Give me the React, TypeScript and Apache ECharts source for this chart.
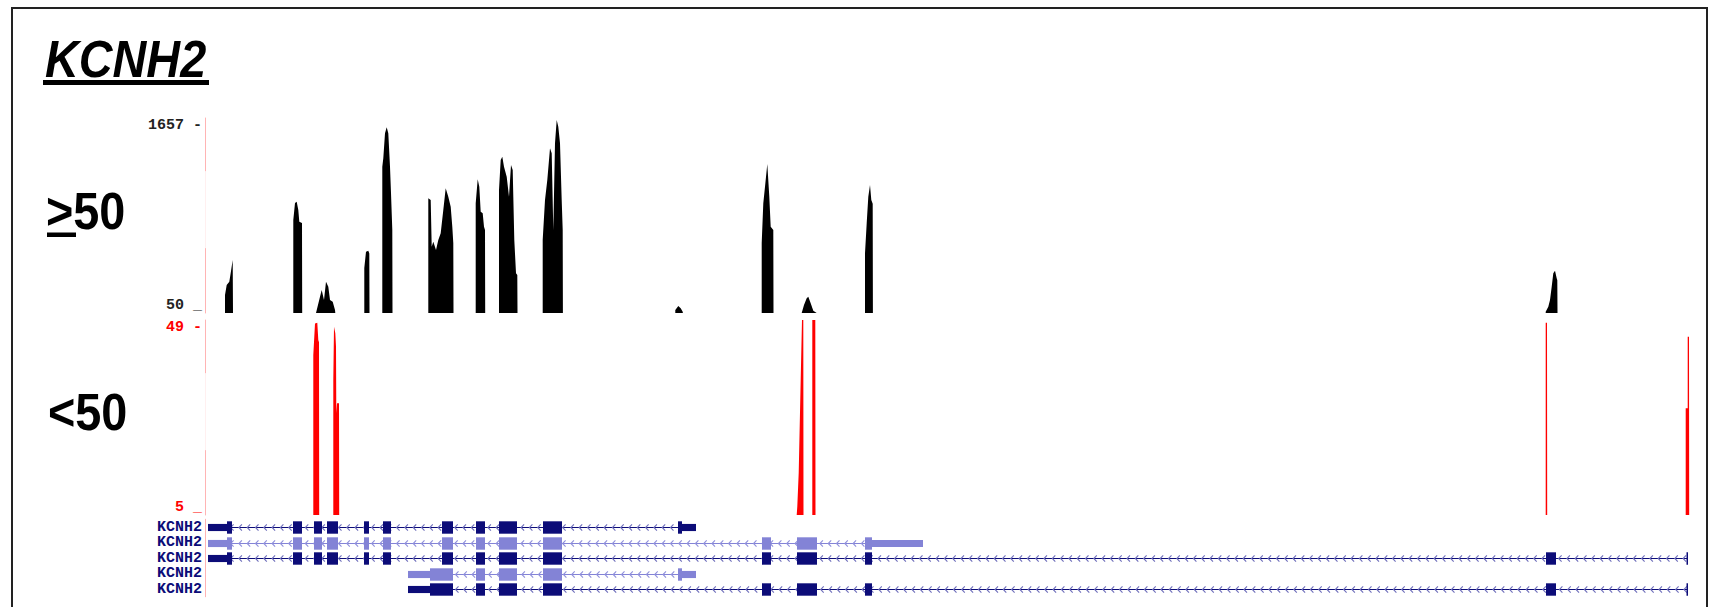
import React, { useEffect, useRef } from "react";
import * as echarts from "echarts";

// ---- coverage (>=50 reads) peaks: [position, depth]
const covA = [[20, 50], [20, 198], [21.7, 281], [24.3, 308], [25.7, 380], [27.7, 487], [28, 50]];
const covB = [[88.3, 50], [88.3, 816], [90, 956], [91.7, 967], [93.3, 899], [94.3, 802], [97, 792], [97.2, 50]];
const covC = [[111, 50], [115, 184], [116.7, 240], [119, 157], [121, 308], [123.3, 267], [125, 157], [127.7, 143], [130, 75], [130.3, 50]];
const covD = [[159.3, 50], [159.3, 421], [161, 555], [163.3, 563], [164.3, 540], [164.5, 50]];
const covE = [[177.3, 50], [177.3, 1256], [178.3, 1325], [180, 1531], [181.7, 1580], [183.3, 1531], [185, 1256], [186, 1039], [187.3, 734], [187.5, 50]];
const covF = [[223.3, 50], [223.3, 995], [225.7, 981], [226.7, 596], [228.3, 638], [231, 569], [233.3, 652], [235.7, 707], [238.3, 899], [240.7, 1078], [243.3, 1008], [245.7, 926], [247.3, 761], [248.3, 624], [248.5, 50]];
const covG = [[270.7, 50], [270.7, 954], [272.7, 1152], [274.3, 1091], [275.7, 885], [277.7, 872], [279, 761], [280, 734], [280.2, 50]];
const covH = [[294, 50], [294, 1064], [295.7, 1311], [297.3, 1338], [299, 1256], [301.7, 1173], [304, 1008], [306, 1270], [307.7, 1228], [309.3, 652], [311, 377], [312.3, 363], [312.5, 50]];
const covI = [[337.7, 50], [337.7, 652], [340, 981], [342.3, 1146], [345, 1407], [346.7, 1366], [348.3, 734], [350, 1449], [351.7, 1640], [353.3, 1585], [355, 1449], [356.7, 981], [357.7, 734], [357.9, 50]];
const covJ = [[470.3, 50], [470.3, 75], [473.3, 108], [475.7, 89], [477.7, 60], [477.9, 50]];
const covK = [[556.7, 50], [556.7, 624], [558.3, 954], [560, 1091], [562.3, 1278], [564.3, 1008], [565.7, 761], [568.3, 734], [568.5, 50]];
const covL = [[596.7, 50], [599, 116], [601.7, 171], [603.3, 184], [605.7, 130], [608.3, 69], [611.7, 50]];
const covM = [[660, 50], [660, 542], [661.7, 789], [663.3, 1008], [665, 1105], [666.3, 981], [667.7, 950], [667.9, 50]];
const covN = [[1340.7, 50], [1340.7, 61], [1343.3, 102], [1345, 157], [1346.7, 267], [1348.3, 377], [1350, 399], [1351.7, 336], [1352.3, 320], [1352.5, 50]];

// ---- coverage (<50 reads) peaks
const redA = [[108.3, 5], [108.3, 41.1], [110, 48.2], [112.3, 48.4], [113.3, 44.5], [114, 44], [114.2, 5]];
const redB = [[128.3, 5], [128.3, 35.5], [129, 47.5], [130.3, 46], [131, 43], [131.3, 28], [132, 30.2], [134, 30.2], [134.2, 5]];
const redC = [[591.7, 5], [592.3, 6.9], [593.7, 14.5], [595.7, 35.5], [597, 49], [598.3, 49], [598.5, 5]];
const redD = [[607.3, 5], [607.3, 49], [610.3, 49], [610.5, 5]];
const redE = [[1340.7, 5], [1340.7, 48.4], [1342, 48.4], [1342.2, 5]];
const redF = [[1480.7, 5], [1480.7, 29.1], [1482.7, 29.1], [1482.7, 45.2], [1484, 45.2], [1484.2, 5]];

// ---- axes
const X_MIN = 0;
const X_MAX = 1485;
const covTicks = [50, 1657];
const redTicks = [5, 49];
const geneName = "KCNH2";

// ---- gene models (rows top to bottom), tone 0 = dark, 1 = light
const geneRows = [1, 2, 3, 4, 5];
const rowTone = [0, 1, 0, 1, 0];
const rowSpan = [[3, 491], [3, 718], [3, 1483], [203, 491], [203, 1483]];
const rowUtr = [
  [[3, 22], [477, 491]],
  [[3, 22], [667, 718]],
  [[3, 22]],
  [[203, 225], [477, 491]],
  [[203, 225]],
];
const exonsCore = [[22, 27], [88, 97], [109, 117], [122, 133], [159, 164], [178, 186], [237, 248], [271, 280], [294, 312], [338, 357]];
const rowExons = [
  [...exonsCore, [473, 477]],
  [...exonsCore, [557, 566], [592, 612], [660, 667]],
  [...exonsCore, [557, 566], [592, 612], [660, 667], [1341, 1351], [1481.5, 1483]],
  [[225, 248], [271, 280], [294, 312], [338, 357], [473, 477]],
  [[225, 248], [271, 280], [294, 312], [338, 357], [557, 566], [592, 612], [660, 667], [1341, 1351], [1481.5, 1483]],
];

const NAVY = "#0c0c78";
const LIGHT = "#8383d6";
const CHEV = ["#7070bc", "#9090dc"];
const PINK = "#ffb4b4";
const FAINT = "#fff0f0";

function buildGeneItems() {
  const items: number[][] = [];
  geneRows.forEach((r, i) => {
    items.push([rowSpan[i][0], rowSpan[i][1], r, 0, rowTone[i]]);
  });
  geneRows.forEach((r, i) => {
    rowUtr[i].forEach((u) => items.push([u[0], u[1], r, 1, rowTone[i]]));
    rowExons[i].forEach((e) => items.push([e[0], e[1], r, 2, rowTone[i]]));
  });
  return items;
}

function pinkGradient(top: number, bottom: number) {
  return new echarts.graphic.LinearGradient(
    0, top, 0, bottom,
    [
      { offset: 0, color: PINK },
      { offset: 0.27, color: PINK },
      { offset: 0.275, color: FAINT },
      { offset: 0.665, color: FAINT },
      { offset: 0.67, color: PINK },
      { offset: 1, color: PINK },
    ],
    true
  );
}

const labelFont = { fontFamily: "Liberation Mono", fontWeight: "bold" as const, fontSize: 15, lineHeight: 15 };

function buildOption() {
  const covData = [covA, covB, covC, covD, covE, covF, covG, covH, covI, covJ, covK, covL, covM, covN].flat();
  const redData = [redA, redB, redC, redD, redE, redF].flat();
  const geneItems = buildGeneItems();

  const hiddenX = (gridIndex: number) => ({
    type: "value", gridIndex, min: X_MIN, max: X_MAX, show: false,
  });

  return {
    animation: false,
    backgroundColor: "#ffffff",
    grid: [
      { left: 205, top: 118, width: 1485, height: 195 },
      { left: 205, top: 320, width: 1485, height: 195 },
      { left: 205, top: 519.25, width: 1485, height: 77.5 },
    ],
    xAxis: [hiddenX(0), hiddenX(1), hiddenX(2)],
    yAxis: [
      {
        type: "value", gridIndex: 0, position: "left", min: covTicks[0], max: covTicks[1],
        axisLine: { show: true, lineStyle: { color: pinkGradient(118, 313), width: 1 } },
        axisTick: { show: false }, splitLine: { show: false },
        axisLabel: { ...labelFont, color: "#222", margin: 3, customValues: [covTicks[1]], formatter: (v: number) => `${v} -`, verticalAlign: "top" },
      },
      {
        type: "value", gridIndex: 0, position: "left", min: covTicks[0], max: covTicks[1],
        axisLine: { show: false }, axisTick: { show: false }, splitLine: { show: false },
        axisLabel: { ...labelFont, color: "#222", margin: 3, customValues: [covTicks[0]], formatter: (v: number) => `${v} _`, verticalAlign: "bottom" },
      },
      {
        type: "value", gridIndex: 1, position: "left", min: redTicks[0], max: redTicks[1],
        axisLine: { show: true, lineStyle: { color: pinkGradient(320, 515), width: 1 } },
        axisTick: { show: false }, splitLine: { show: false },
        axisLabel: { ...labelFont, color: "#ff0000", margin: 3, customValues: [redTicks[1]], formatter: (v: number) => `${v} -`, verticalAlign: "top" },
      },
      {
        type: "value", gridIndex: 1, position: "left", min: redTicks[0], max: redTicks[1],
        axisLine: { show: false }, axisTick: { show: false }, splitLine: { show: false },
        axisLabel: { ...labelFont, color: "#ff0000", margin: 3, customValues: [redTicks[0]], formatter: (v: number) => `${v} _`, verticalAlign: "bottom" },
      },
      {
        type: "value", gridIndex: 2, position: "left", min: 0.5, max: 5.5, inverse: true,
        axisLine: { show: true, lineStyle: { color: PINK, width: 1 } },
        axisTick: { show: false }, splitLine: { show: false },
        axisLabel: { ...labelFont, color: NAVY, margin: 3, customValues: geneRows, formatter: () => geneName },
      },
    ],
    series: [
      {
        type: "line", xAxisIndex: 0, yAxisIndex: 0, data: covData,
        symbol: "none", smooth: false, lineStyle: { width: 0 },
        areaStyle: { color: "#000000", opacity: 1 },
      },
      {
        type: "line", xAxisIndex: 1, yAxisIndex: 2, data: redData,
        symbol: "none", smooth: false, lineStyle: { width: 0 },
        areaStyle: { color: "#ff0000", opacity: 1 },
      },
      {
        type: "custom", xAxisIndex: 2, yAxisIndex: 4, data: geneItems,
        encode: { x: [0, 1], y: 2 },
        renderItem: (params: any, api: any) => {
          const s = api.value(0), e = api.value(1), row = api.value(2);
          const kind = api.value(3), tone = api.value(4);
          const p1 = api.coord([s, row]);
          const p2 = api.coord([e, row]);
          const rowH = api.size([0, 1])[1];
          const main = tone === 0 ? NAVY : LIGHT;
          const yc = Math.round(p1[1]) + 0.5;
          if (kind === 0) {
            const children: any[] = [
              { type: "line", shape: { x1: p1[0], y1: yc, x2: p2[0], y2: yc }, style: { stroke: main, lineWidth: 1 } },
            ];
            const step = 8.3;
            const h = rowH * 0.2;
            for (let x = p1[0] + 6; x < p2[0] - 3; x += step) {
              children.push({
                type: "polyline",
                shape: { points: [[x + 3, yc - h], [x, yc], [x + 3, yc + h]] },
                style: { stroke: CHEV[tone], lineWidth: 1.1, fill: null },
              });
            }
            return { type: "group", children };
          }
          const hh = kind === 1 ? rowH * 0.46 : rowH * 0.8;
          return {
            type: "rect",
            shape: { x: p1[0], y: yc - hh / 2, width: Math.max(1.5, p2[0] - p1[0]), height: hh },
            style: { fill: main },
          };
        },
      },
    ],
    graphic: [
      { type: "rect", shape: { x: 12, y: 8, width: 1695, height: 700 }, style: { fill: null, stroke: "#222", lineWidth: 2 }, silent: true },
      {
        type: "text", x: 45, y: 59, scaleX: 0.9,
        style: { text: "KCNH2", fontFamily: "Liberation Sans", fontWeight: "bold", fontStyle: "italic", fontSize: 52, fill: "#000", align: "left", verticalAlign: "middle" },
      },
      { type: "rect", shape: { x: 43, y: 80, width: 166, height: 5 }, style: { fill: "#000" } },
      {
        type: "text", x: 46, y: 211, scaleX: 0.9,
        style: { text: ">50", fontFamily: "Liberation Sans", fontWeight: "bold", fontSize: 52, fill: "#000", align: "left", verticalAlign: "middle" },
      },
      { type: "rect", shape: { x: 47, y: 232.5, width: 29, height: 4.5 }, style: { fill: "#000" } },
      {
        type: "text", x: 48, y: 412, scaleX: 0.9,
        style: { text: "<50", fontFamily: "Liberation Sans", fontWeight: "bold", fontSize: 52, fill: "#000", align: "left", verticalAlign: "middle" },
      },
    ],
  };
}

export default function App() {
  const ref = useRef<HTMLDivElement>(null);
  useEffect(() => {
    document.body.style.margin = "0";
    const chart = echarts.init(ref.current!, null, { renderer: "svg" });
    chart.setOption(buildOption() as any);
    return () => chart.dispose();
  }, []);
  return <div ref={ref} style={{ width: 1709, height: 607, background: "#fff" }} />;
}
